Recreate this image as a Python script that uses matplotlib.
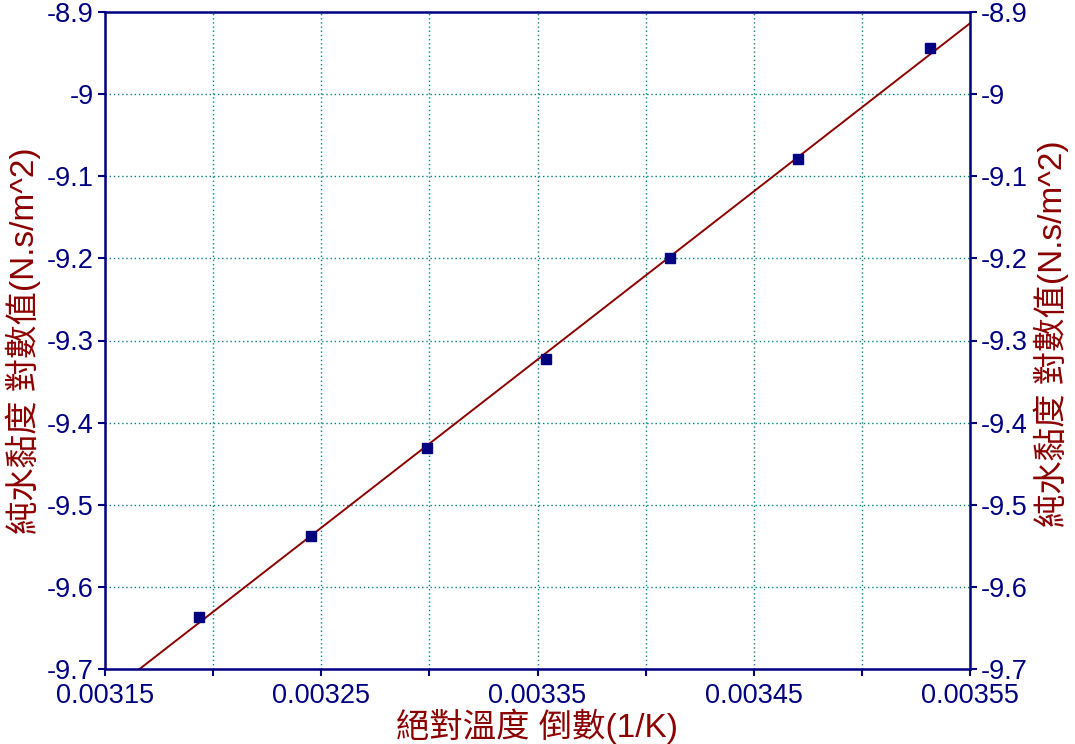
import numpy as np
import matplotlib
matplotlib.use("Agg")
import matplotlib.pyplot as plt
from matplotlib.ticker import MultipleLocator, FuncFormatter

# Reciprocal absolute temperature (1/K) and log of pure-water viscosity
inv_temp = [0.0031934, 0.0032452, 0.0032987, 0.0033540, 0.0034112, 0.0034704, 0.0035317]
log_visc = [-9.637, -9.538, -9.431, -9.3225, -9.1995, -9.079, -8.944]

x_label = "絕對溫度 倒數(1/K)"
y_label = "純水黏度 對數值(N.s/m^2)"

x_min, x_max = 0.00315, 0.00355
y_min, y_max = -9.7, -8.9

navy = "#000080"
dark_red = "#8B0000"
teal = "#008080"
fonts = ["Liberation Sans", "Noto Sans CJK TC", "DejaVu Sans"]
plt.rcParams["font.family"] = fonts

fig = plt.figure(figsize=(10.75, 7.44), dpi=100)
ax = fig.add_axes([105 / 1075, 1 - 669 / 744, 865 / 1075, 657 / 744])

# Least-squares fit line across the whole x range
slope, intercept = np.polyfit(inv_temp, log_visc, 1)
xs = np.array([x_min, x_max])
ax.plot(xs, slope * xs + intercept, color=dark_red, lw=1.4, zorder=2)
ax.plot(inv_temp, log_visc, ls="none", marker="s", ms=6.5,
        mfc=navy, mec=navy, zorder=3)

ax.set_xlim(x_min, x_max)
ax.set_ylim(y_min, y_max)

ax.xaxis.set_major_locator(MultipleLocator(0.00005))
ax.yaxis.set_major_locator(MultipleLocator(0.1))


def xfmt(v, pos):
    k = round((v - x_min) / 0.00005)
    return f"{v:.5f}" if k % 2 == 0 else ""


def yfmt(v, pos):
    s = f"{v:.1f}"
    if s.endswith(".0"):
        s = s[:-2]
    return s


ax.xaxis.set_major_formatter(FuncFormatter(xfmt))
ax.yaxis.set_major_formatter(FuncFormatter(yfmt))

ax.grid(True, which="major", color=teal, ls=(0, (1, 2)), lw=1.0)
ax.set_axisbelow(True)

for sp in ax.spines.values():
    sp.set_color(navy)
    sp.set_linewidth(1.8)

ax.tick_params(axis="both", colors=navy, labelcolor=navy, labelsize=19.5,
               direction="out", length=5, width=1.5)
ax.tick_params(axis="y", right=True, labelright=True, pad=3)
ax.tick_params(axis="x", pad=5)

# Keep the corner y labels clear of the x tick labels
for lbl in ax.get_yticklabels(which="both"):
    lbl.set_va("center_baseline")

ax.set_xlabel(x_label, color=dark_red, fontsize=24, labelpad=0)
ax.set_ylabel(y_label, color=dark_red, fontsize=24, labelpad=4)

# Same label mirrored on the right side
fig.text(1051 / 1075, (1 - 334 / 744), y_label, rotation=90, color=dark_red,
         fontsize=24, ha="center", va="center")

fig.savefig("out.png", dpi=100)
